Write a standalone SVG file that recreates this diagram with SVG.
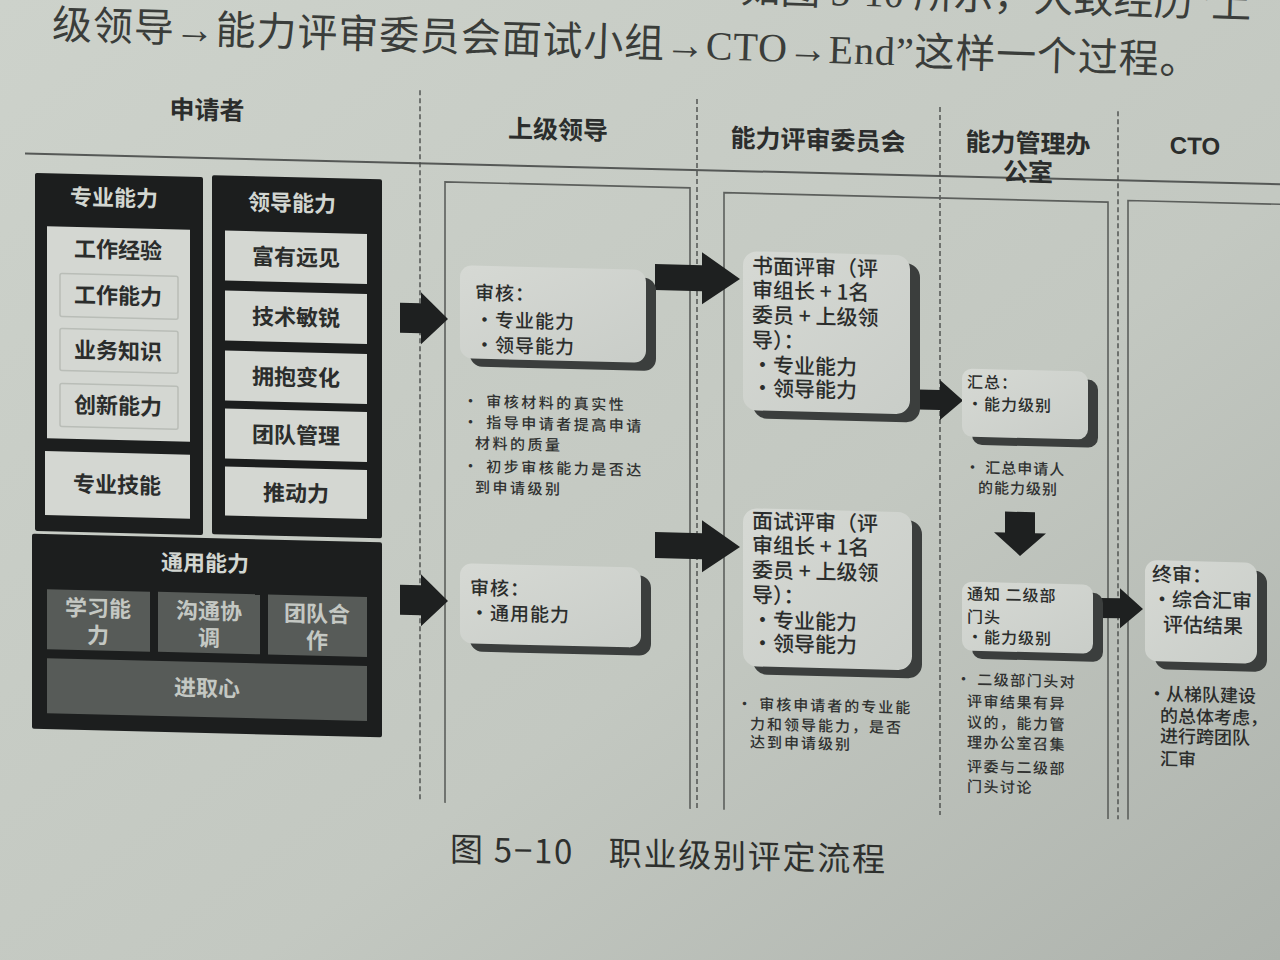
<svg xmlns="http://www.w3.org/2000/svg" width="1280" height="960" viewBox="0 0 1280 960">
<defs>
<linearGradient id="paper" x1="0" y1="0" x2="1" y2="1">
<stop offset="0" stop-color="#cdd2cb"/>
<stop offset="0.6" stop-color="#c3c8c1"/>
<stop offset="1" stop-color="#aeb3ad"/>
</linearGradient>
<linearGradient id="nodefill" x1="0" y1="0" x2="1" y2="1">
<stop offset="0" stop-color="#d6d9d4"/>
<stop offset="1" stop-color="#c9cdc8"/>
</linearGradient>
<style>
text{font-family:"Noto Sans CJK SC","Noto Sans",sans-serif;fill:#2b2d2c}
.hdr{font-size:25px;font-weight:700;text-anchor:middle}
.lane{fill:none;stroke:#5c5f5c;stroke-width:1.6}
.dash{stroke:#4a4d4b;stroke-width:1.4;stroke-dasharray:5 3;fill:none}
.dark{fill:#1c1e1e}
.lite{fill:#d4d7d2}
.liteb{fill:#d4d7d2;stroke:#b9bdb7;stroke-width:1.5}
.gray{fill:#575b58}
.t22{font-size:22px;font-weight:700;text-anchor:middle}
.tw{fill:#d2d6d1}
.tg{fill:#c4c8c3}
.arr{fill:#1e2020}
.shadow{fill:#3b3e3d}
.node{fill:url(#nodefill)}
.n21{font-size:21px;font-weight:500}
.n19{font-size:19px;letter-spacing:1px;font-weight:500}
.n16{font-size:16px;letter-spacing:1px;font-weight:500}
.note{font-size:15px;letter-spacing:2.5px;font-weight:500;fill:#303231}
.n18{font-size:18px;font-weight:500}
.n20{font-size:20px;font-weight:500}
</style>
</defs>
<rect width="1280" height="960" fill="url(#paper)"/>
<g id="page-text" transform="rotate(1.8 640 40)">
<text x="1250" y="-1" text-anchor="end" style="font-family:'Liberation Serif','Noto Sans CJK SC',serif;font-size:40px;fill:#3a3d3a">如图 5-10 所示，大致经历“上</text>
<text x="52" y="57" textLength="1148" lengthAdjust="spacing" style="font-family:'Liberation Serif','Noto Sans CJK SC',serif;font-size:40px;fill:#3a3d3a">级领导→能力评审委员会面试小组→CTO→End”这样一个过程。</text>
</g>
<g transform="skewY(1.4)">
<g id="headers">
<line x1="25" y1="153" x2="1285" y2="153" stroke="#555856" stroke-width="2"/>
<text class="hdr" x="207" y="114">申请者</text>
<text class="hdr" x="558" y="125">上级领导</text>
<text class="hdr" x="818" y="129">能力评审委员会</text>
<text class="hdr" x="1028" y="127">能力管理办</text>
<text class="hdr" x="1028" y="156">公室</text>
<text class="hdr" x="1195" y="125" style="font-family:'Liberation Sans',sans-serif;font-size:24px">CTO</text>
</g>
<g id="lanes">
<line class="dash" x1="420" y1="80" x2="420" y2="792"/>
<line class="dash" x1="697" y1="82" x2="697" y2="792"/>
<line class="dash" x1="940" y1="84" x2="940" y2="792"/>
<line class="dash" x1="1118" y1="84" x2="1118" y2="792"/>
<path class="lane" d="M445,792 V171 H690 V792"/>
<path class="lane" d="M724,792 V175 H1108 V792"/>
<path class="lane" d="M1128,792 V173 H1285"/>
</g>
<g id="zhuanye">
<rect class="dark" x="35" y="172" width="168" height="358" rx="2"/>
<text class="t22 tw" x="114" y="203">专业能力</text>
<rect class="lite" x="47" y="225" width="143" height="212"/>
<text class="t22" x="118" y="255">工作经验</text>
<rect class="liteb" x="60" y="272" width="118" height="43" rx="2"/>
<text class="t22" x="118" y="301">工作能力</text>
<rect class="liteb" x="60" y="327" width="118" height="42" rx="2"/>
<text class="t22" x="118" y="356">业务知识</text>
<rect class="liteb" x="60" y="382" width="118" height="43" rx="2"/>
<text class="t22" x="118" y="411">创新能力</text>
<rect class="lite" x="45" y="450" width="145" height="64"/>
<text class="t22" x="117" y="490">专业技能</text>
</g>
<g id="lingdao">
<rect class="dark" x="212" y="170" width="170" height="359" rx="2"/>
<text class="t22 tw" x="292" y="204">领导能力</text>
<rect class="lite" x="225" y="225" width="142" height="50"/>
<text class="t22" x="296" y="258">富有远见</text>
<rect class="lite" x="225" y="285" width="142" height="50"/>
<text class="t22" x="296" y="318">技术敏锐</text>
<rect class="lite" x="225" y="345" width="142" height="50"/>
<text class="t22" x="296" y="378">拥抱变化</text>
<rect class="lite" x="225" y="403" width="142" height="50"/>
<text class="t22" x="296" y="436">团队管理</text>
<rect class="lite" x="225" y="461" width="142" height="49"/>
<text class="t22" x="296" y="494">推动力</text>
</g>
<g id="tongyong">
<rect class="dark" x="32" y="533" width="350" height="195" rx="2"/>
<text class="t22 tw" x="205" y="566">通用能力</text>
<rect class="gray" x="47" y="588" width="103" height="60"/>
<text class="t22 tg" x="98" y="614">学习能</text>
<text class="t22 tg" x="98" y="641">力</text>
<rect class="gray" x="158" y="588" width="102" height="60"/>
<text class="t22 tg" x="209" y="614">沟通协</text>
<text class="t22 tg" x="209" y="641">调</text>
<rect class="gray" x="268" y="588" width="99" height="60"/>
<text class="t22 tg" x="317" y="614">团队合</text>
<text class="t22 tg" x="317" y="641">作</text>
<rect class="gray" x="47" y="657" width="320" height="55"/>
<text class="t22 tg" x="207" y="691">进取心</text>
</g>
<g id="connectors">
<polygon class="arr" points="400,293 421,293 421,282 448,308 421,334 421,323 400,323"/>
<polygon class="arr" points="400,575 421,575 421,564 448,590 421,616 421,605 400,605"/>
<polygon class="arr" points="655,248 702,248 702,235 740,261 702,287 702,274 655,274"/>
<polygon class="arr" points="655,516 702,516 702,503 740,529 702,555 702,542 655,542"/>
<polygon class="arr" points="918,367 940,367 940,357 963,377 940,397 940,387 918,387"/>
<polygon class="arr" points="1005,487 1035,487 1035,508 1046,508 1020,531 994,508 1005,508"/>
<polygon class="arr" points="1100,571 1120,571 1120,561 1143,581 1120,601 1120,591 1100,591"/>
</g>
<g id="n1">
<rect class="shadow" x="470" y="262" width="186" height="93" rx="12"/>
<rect class="node" x="460" y="254" width="186" height="93" rx="12"/>
<text class="n19" x="475" y="288">审核：</text>
<text class="n19" x="475" y="315">•专业能力</text>
<text class="n19" x="475" y="340">•领导能力</text>
</g>
<g id="n1-note">
<text class="note" x="463" y="395">• 审核材料的真实性</text>
<text class="note" x="463" y="416">• 指导申请者提高申请</text>
<text class="note" x="475" y="437">材料的质量</text>
<text class="note" x="463" y="460">• 初步审核能力是否达</text>
<text class="note" x="475" y="481">到申请级别</text>
</g>
<g id="n2">
<rect class="shadow" x="470" y="560" width="181" height="80" rx="12"/>
<rect class="node" x="460" y="552" width="181" height="80" rx="12"/>
<text class="n19" x="470" y="583">审核：</text>
<text class="n19" x="470" y="608">•通用能力</text>
</g>
<g id="n3">
<rect class="shadow" x="753" y="241" width="167" height="159" rx="14"/>
<rect class="node" x="743" y="233" width="167" height="159" rx="14"/>
<text class="n21" x="752" y="255">书面评审（评</text>
<text class="n21" x="752" y="279">审组长 + 1名</text>
<text class="n21" x="752" y="304">委员 + 上级领</text>
<text class="n21" x="752" y="329">导）：</text>
<text class="n21" x="752" y="354">•专业能力</text>
<text class="n21" x="752" y="377">•领导能力</text>
</g>
<g id="n4">
<rect class="shadow" x="753" y="498" width="169" height="158" rx="14"/>
<rect class="node" x="743" y="490" width="169" height="158" rx="14"/>
<text class="n21" x="752" y="510">面试评审（评</text>
<text class="n21" x="752" y="534">审组长 + 1名</text>
<text class="n21" x="752" y="559">委员 + 上级领</text>
<text class="n21" x="752" y="584">导）：</text>
<text class="n21" x="752" y="609">•专业能力</text>
<text class="n21" x="752" y="632">•领导能力</text>
</g>
<g id="n4-note">
<text class="note" x="737" y="691" style="letter-spacing:2px">• 审核申请者的专业能</text>
<text class="note" x="750" y="711" style="letter-spacing:2px">力和领导能力，是否</text>
<text class="note" x="750" y="729" style="letter-spacing:2px">达到申请级别</text>
</g>
<g id="n5">
<rect class="shadow" x="972" y="353" width="126" height="68" rx="10"/>
<rect class="node" x="962" y="345" width="126" height="68" rx="10"/>
<text class="n16" x="967" y="364">汇总：</text>
<text class="n16" x="967" y="386">•能力级别</text>
</g>
<g id="n5-note">
<text class="note" x="965" y="449" style="letter-spacing:1px">• 汇总申请人</text>
<text class="note" x="978" y="469" style="letter-spacing:1px">的能力级别</text>
</g>
<g id="n6">
<rect class="shadow" x="972" y="566" width="131" height="69" rx="10"/>
<rect class="node" x="962" y="558" width="131" height="69" rx="10"/>
<text class="n16" x="967" y="576">通知 二级部</text>
<text class="n16" x="967" y="599">门头</text>
<text class="n16" x="967" y="619">•能力级别</text>
</g>
<g id="n6-note">
<text class="note" x="956" y="661" style="letter-spacing:1.5px">• 二级部门头对</text>
<text class="note" x="967" y="683" style="letter-spacing:1.5px">评审结果有异</text>
<text class="note" x="967" y="704" style="letter-spacing:1.5px">议的，能力管</text>
<text class="note" x="967" y="724" style="letter-spacing:1.5px">理办公室召集</text>
<text class="note" x="967" y="748" style="letter-spacing:1.5px">评委与二级部</text>
<text class="note" x="967" y="768" style="letter-spacing:1.5px">门头讨论</text>
</g>
<g id="n7">
<rect class="shadow" x="1155" y="540" width="112" height="101" rx="12"/>
<rect class="node" x="1145" y="532" width="112" height="101" rx="12"/>
<text class="n20" x="1152" y="553">终审：</text>
<text class="n20" x="1152" y="578">•综合汇审</text>
<text class="n20" x="1163" y="603">评估结果</text>
</g>
<g id="n7-note">
<text class="n18" x="1148" y="672">•从梯队建设</text>
<text class="n18" x="1160" y="694">的总体考虑，</text>
<text class="n18" x="1160" y="714">进行跨团队</text>
<text class="n18" x="1160" y="737">汇审</text>
</g>
<g id="caption">
<text x="450" y="850" textLength="435" lengthAdjust="spacing" style="font-size:33px;fill:#2e302e">图 5−10　职业级别评定流程</text>
</g>
</g>
</svg>
